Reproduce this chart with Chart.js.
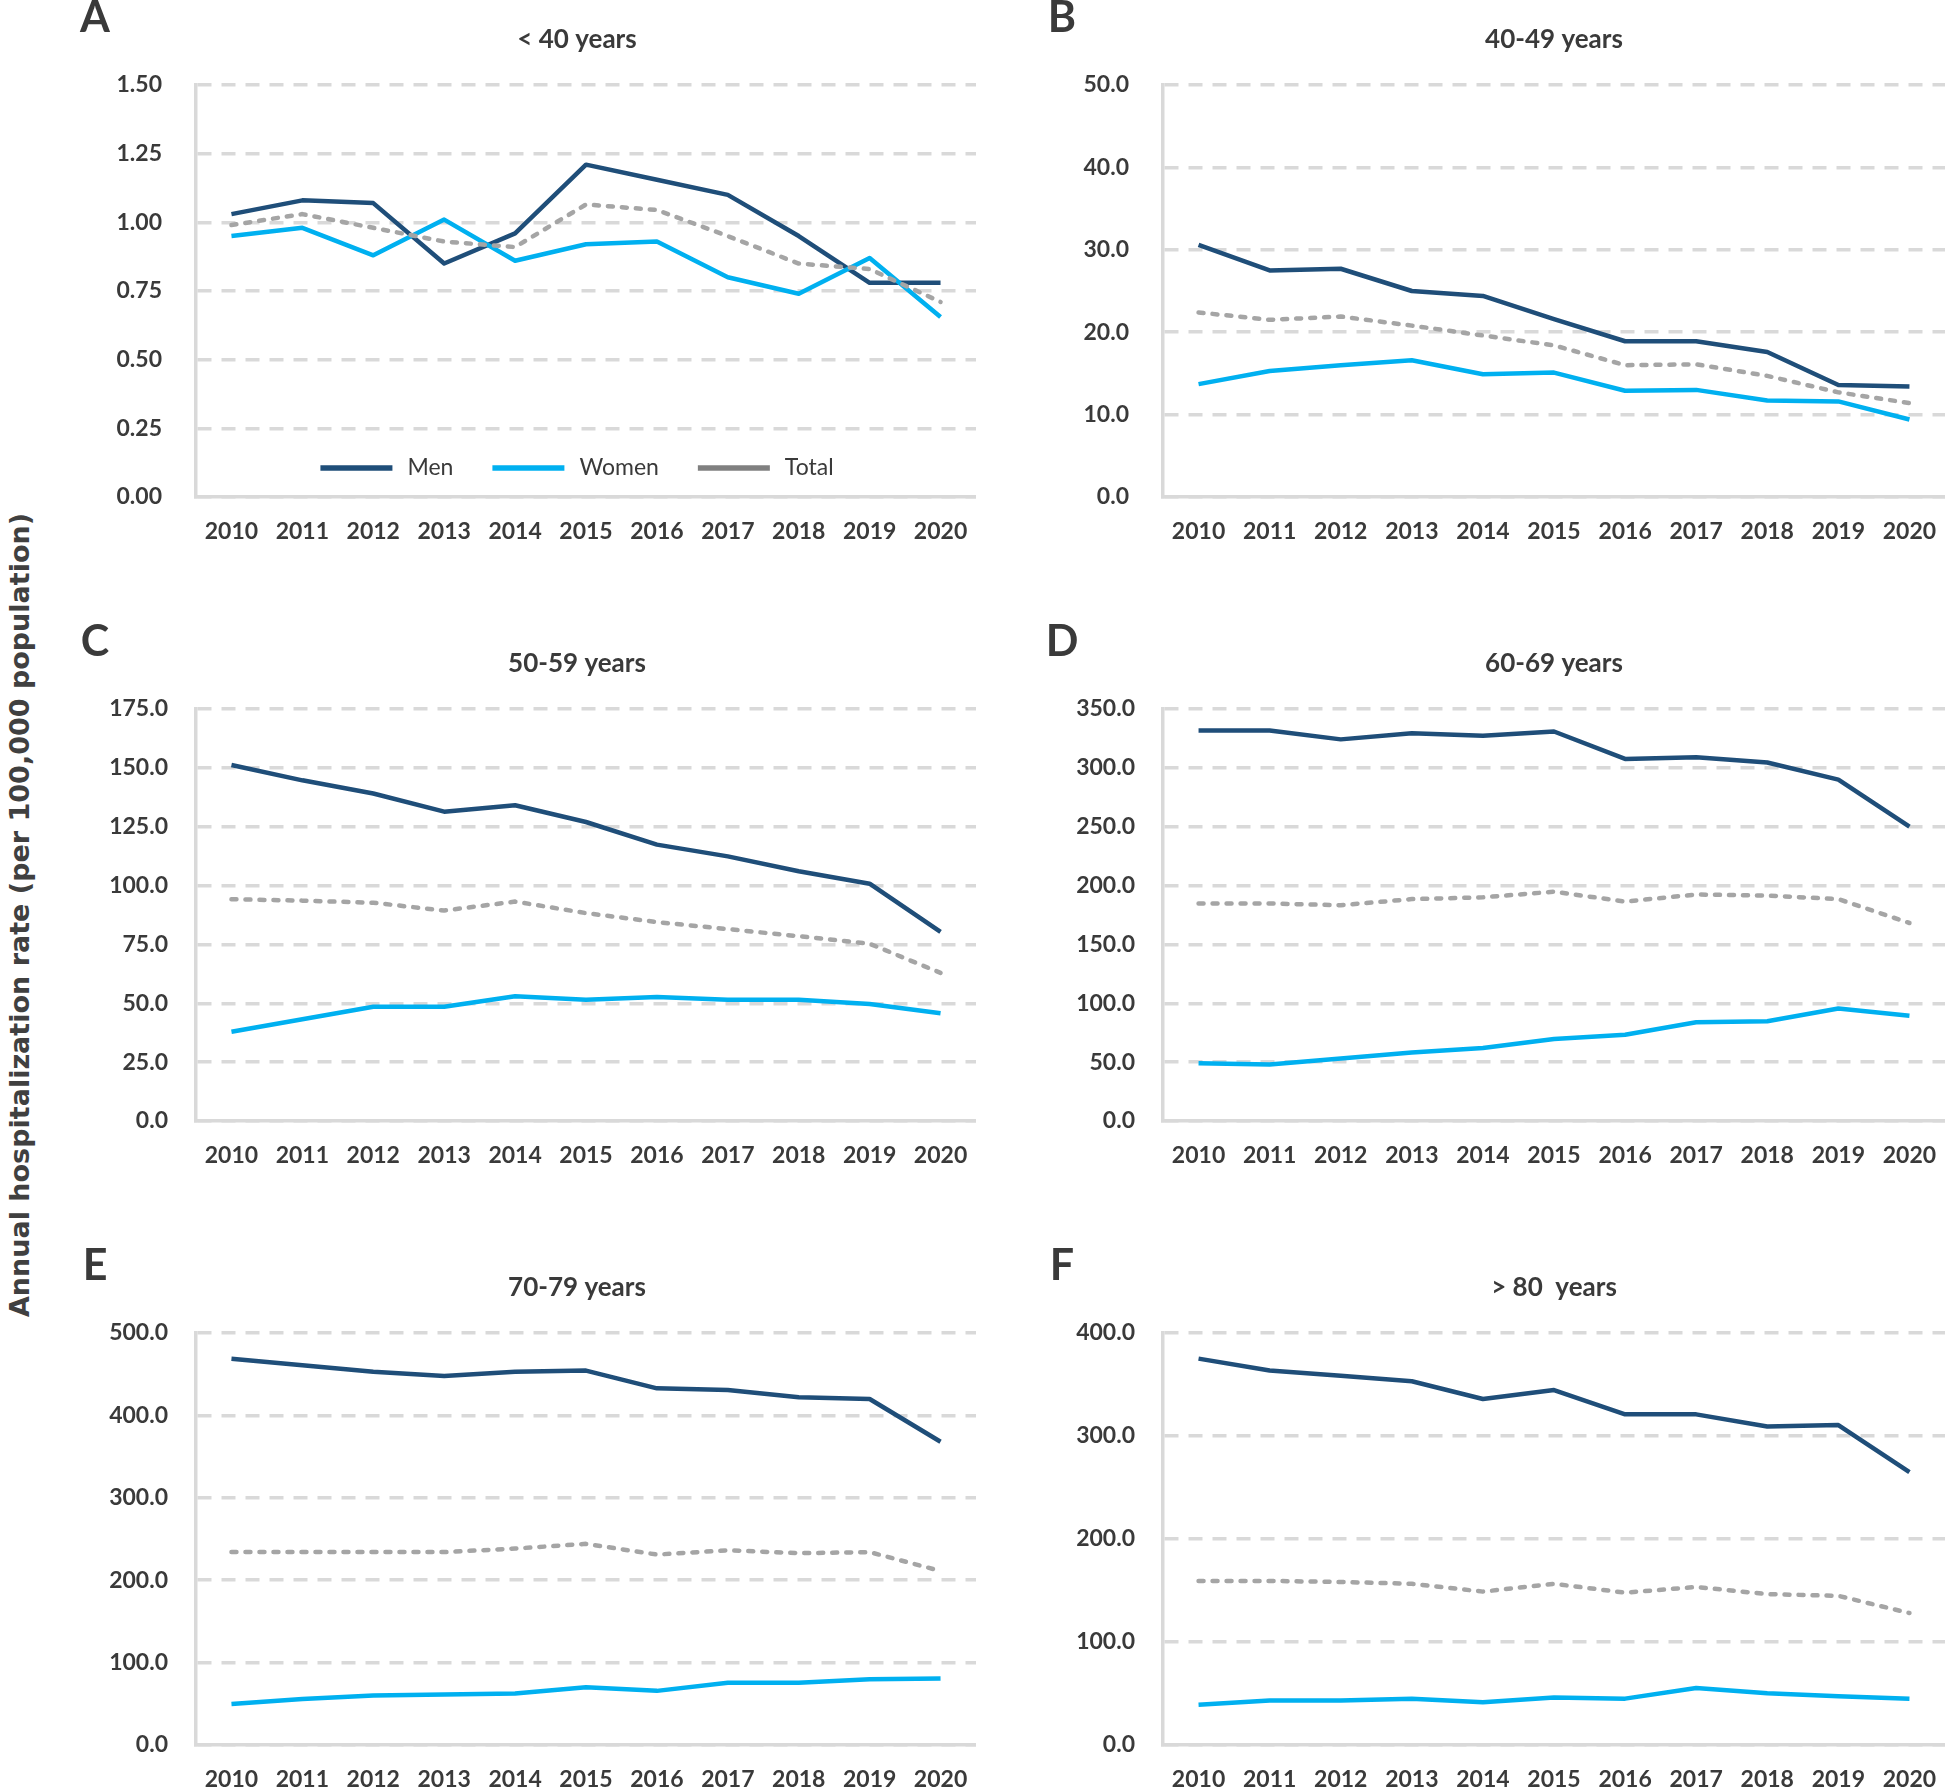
<!DOCTYPE html>
<html>
<head>
<meta charset="utf-8">
<title>Annual hospitalization rate by age group</title>
<script src="https://cdn.jsdelivr.net/npm/chart.js@4.4.0/dist/chart.umd.min.js"></script>
<style>
  body { margin: 0; background: #fff; width: 1945px; height: 1787px; overflow: hidden; position: relative; }
  .panel { position: absolute; }
  #ytitle {
    position: absolute; left: 19px; top: 915px;
    font: bold 27px "DejaVu Sans", sans-serif; color: #404040; white-space: nowrap;
    transform: translate(-50%, -50%) rotate(-90deg);
  }
</style>
</head>
<body>
<div id="ytitle">Annual hospitalization rate (per 100,000 population)</div>
<div class="panel" style="left:0;top:0"><canvas id="cA" width="976" height="550"></canvas></div>
<div class="panel" style="left:980px;top:0"><canvas id="cB" width="965" height="550"></canvas></div>
<div class="panel" style="left:0;top:624px"><canvas id="cC" width="976" height="550"></canvas></div>
<div class="panel" style="left:980px;top:624px"><canvas id="cD" width="965" height="550"></canvas></div>
<div class="panel" style="left:0;top:1248px"><canvas id="cE" width="976" height="550"></canvas></div>
<div class="panel" style="left:980px;top:1248px"><canvas id="cF" width="965" height="550"></canvas></div>
<script>
// data
const years = ['2010', '2011', '2012', '2013', '2014', '2015', '2016', '2017', '2018', '2019', '2020'];
const seriesNames = ['Men', 'Women', 'Total'];

const menU40   = [1.03, 1.08, 1.07, 0.85, 0.96, 1.21, 1.155, 1.10, 0.95, 0.78, 0.78];
const womenU40 = [0.95, 0.98, 0.88, 1.01, 0.86, 0.92, 0.93, 0.80, 0.74, 0.87, 0.655];
const totalU40 = [0.99, 1.03, 0.98, 0.93, 0.91, 1.065, 1.045, 0.95, 0.85, 0.83, 0.71];

const men4049   = [30.6, 27.5, 27.7, 25.0, 24.4, 21.6, 18.9, 18.9, 17.6, 13.6, 13.4];
const women4049 = [13.7, 15.3, 16.0, 16.6, 14.9, 15.1, 12.9, 13.0, 11.7, 11.6, 9.4];
const total4049 = [22.4, 21.5, 21.9, 20.8, 19.6, 18.4, 16.0, 16.1, 14.7, 12.7, 11.4];

const men5059   = [151.2, 144.7, 139.1, 131.4, 134.1, 127.0, 117.4, 112.4, 106.1, 100.8, 80.3];
const women5059 = [37.9, 43.2, 48.5, 48.5, 53.0, 51.5, 52.7, 51.5, 51.5, 49.7, 45.8];
const total5059 = [94.2, 93.6, 92.7, 89.4, 93.2, 88.3, 84.5, 81.5, 78.5, 75.3, 62.9];

const men6069   = [331.8, 331.8, 324.2, 329.4, 327.3, 330.9, 307.6, 309.1, 304.5, 290.0, 250.0];
const women6069 = [49.1, 47.9, 53.0, 58.2, 62.1, 69.7, 73.3, 83.9, 84.8, 95.5, 89.4];
const total6069 = [184.8, 184.8, 183.3, 188.5, 190.0, 194.8, 186.4, 192.4, 191.5, 188.5, 168.2];

const men7079   = [468.7, 460.9, 453.1, 447.9, 453.1, 454.4, 432.8, 430.7, 422.0, 419.9, 368.0];
const women7079 = [49.7, 55.7, 60.0, 61.3, 62.6, 70.0, 65.7, 75.6, 75.6, 79.9, 80.8];
const total7079 = [234.1, 234.1, 234.1, 234.1, 238.4, 244.1, 231.1, 236.3, 232.8, 234.1, 211.2];

const men80   = [375.1, 363.6, 358.4, 353.2, 335.9, 344.6, 321.0, 321.0, 309.3, 310.6, 264.9];
const women80 = [39.1, 43.3, 43.3, 45.0, 41.6, 46.1, 45.0, 55.4, 50.2, 47.4, 45.0];
const total80 = [159.3, 159.3, 158.3, 156.5, 148.9, 156.5, 147.9, 153.4, 146.5, 144.8, 128.1];

// y axis ticks per panel
const panelLetters = ['A', 'B', 'C', 'D', 'E', 'F'];
const panelTitles = ['< 40 years', '40-49 years', '50-59 years', '60-69 years', '70-79 years', '> 80  years'];
const yMax = [1.5, 50, 175, 350, 500, 400];
const yStep = [0.25, 10, 25, 50, 100, 100];
const yDecimals = [2, 1, 1, 1, 1, 1];

const TEXT = '#3A3A3A';
const GRID = '#D9D9D9';

// letter + title above each plot
const panelText = {
  id: 'panelText',
  afterDraw(chart, args, opts) {
    const ctx = chart.ctx, ca = chart.chartArea;
    ctx.save();
    ctx.fillStyle = TEXT;
    ctx.textBaseline = 'middle';
    ctx.textAlign = 'center';
    ctx.font = 'bold 43px Lato';
    ctx.fillText(opts.letter, ca.left - 101, 18);
    ctx.font = 'bold 26px Lato';
    ctx.fillText(opts.title, (ca.left + ca.right) / 2 + opts.nudge, 40);
    ctx.restore();
  }
};

// legend sitting inside the plot of panel A
const innerLegend = {
  id: 'innerLegend',
  afterDraw(chart, args, opts) {
    if (!opts.show) return;
    const ctx = chart.ctx, ca = chart.chartArea;
    const lineLen = 72, gapText = 15, gapItem = 39;
    ctx.save();
    ctx.font = '23px Lato';
    const items = chart.data.datasets.map(ds => ({ ds, w: ctx.measureText(ds.label).width }));
    let total = 0;
    items.forEach((it, i) => { total += lineLen + gapText + it.w + (i ? gapItem : 0); });
    let x = (ca.left + ca.right) / 2 + opts.nudge - total / 2;
    const y = ca.bottom - 29;
    items.forEach(it => {
      ctx.strokeStyle = it.ds.legendColor || it.ds.borderColor;
      ctx.lineWidth = 5.5;
      ctx.setLineDash([]);
      ctx.beginPath();
      ctx.moveTo(x, y);
      ctx.lineTo(x + lineLen, y);
      ctx.stroke();
      x += lineLen + gapText;
      ctx.fillStyle = TEXT;
      ctx.textAlign = 'left';
      ctx.textBaseline = 'middle';
      ctx.fillText(it.ds.label, x, y);
      x += it.w + gapItem;
    });
    ctx.restore();
  }
};

function makePanel(idx, canvasId, men, women, total) {
  const leftCol = idx % 2 === 0;
  const axisW = leftCol ? 196 : 183;
  const labelPad = idx < 2 ? 34 : 28;
  new Chart(document.getElementById(canvasId), {
    type: 'line',
    data: {
      labels: years,
      datasets: [
        { label: seriesNames[0], data: men, borderColor: '#1F4E79', borderWidth: 4.5, order: 2 },
        { label: seriesNames[1], data: women, borderColor: '#00B0F0', borderWidth: 4.5, order: 1 },
        { label: seriesNames[2], data: total, borderColor: '#A5A5A5', legendColor: '#808080', borderWidth: 4.5,
          borderDash: [5, 9], borderCapStyle: 'round', order: 0 }
      ]
    },
    options: {
      responsive: false,
      animation: false,
      layout: { padding: { top: 85, left: 0, right: 0, bottom: 0 } },
      elements: { point: { radius: 0, hoverRadius: 0 }, line: { tension: 0, borderJoinStyle: 'round' } },
      plugins: {
        legend: { display: false },
        tooltip: { enabled: false },
        title: { display: false },
        panelText: { letter: panelLetters[idx], title: panelTitles[idx], nudge: leftCol ? -9 : 0 },
        innerLegend: { show: idx === 0, nudge: -9 }
      },
      scales: {
        x: {
          offset: true,
          grid: { display: false, drawTicks: false },
          border: { display: true, color: GRID, width: 3.5 },
          ticks: { color: TEXT, padding: 21, maxRotation: 0, autoSkip: false,
                   font: { family: 'Lato', weight: 'bold', size: 23 } },
          // keep the plot running to the right edge
          afterFit: s => { s.height = 53; s.paddingLeft = 0; s.paddingRight = 0; }
        },
        y: {
          min: 0,
          max: yMax[idx],
          grid: { color: GRID, lineWidth: 3.5, drawTicks: false },
          border: { display: true, color: GRID, width: 3.5, dash: [14, 10] },
          ticks: { stepSize: yStep[idx], color: TEXT, padding: labelPad,
                   font: { family: 'Lato', weight: 'bold', size: 23 },
                   callback: v => Number(v).toFixed(yDecimals[idx]) },
          afterFit: s => { s.width = axisW; }
        }
      }
    },
    plugins: [panelText, innerLegend]
  });
}

document.addEventListener('DOMContentLoaded', () => {
  makePanel(0, 'cA', menU40, womenU40, totalU40);
  makePanel(1, 'cB', men4049, women4049, total4049);
  makePanel(2, 'cC', men5059, women5059, total5059);
  makePanel(3, 'cD', men6069, women6069, total6069);
  makePanel(4, 'cE', men7079, women7079, total7079);
  makePanel(5, 'cF', men80, women80, total80);
});
</script>
</body>
</html>
